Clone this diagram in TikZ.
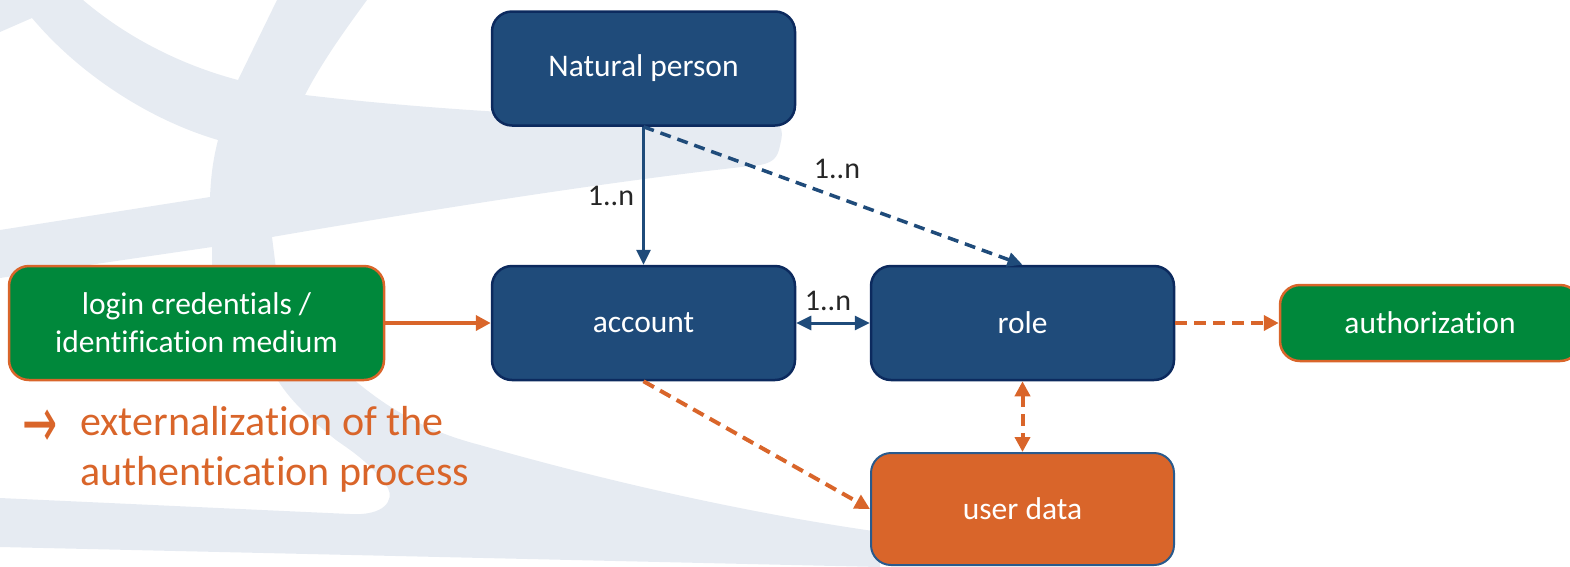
\documentclass[tikz,border=0pt]{standalone}
\usepackage{fontspec}
\setmainfont{Carlito}[Ligatures=NoCommon]
\newfontfamily\symfont{DejaVu Sans}
\usetikzlibrary{arrows.meta}
\definecolor{bgband}{HTML}{E6EBF2}
\definecolor{navyfill}{HTML}{1F4B7A}
\definecolor{navyline}{HTML}{0C2A5E}
\definecolor{greenfill}{HTML}{00883B}
\definecolor{orangec}{HTML}{D9652A}
\definecolor{udline}{HTML}{2A5A8C}
\definecolor{labelgray}{HTML}{262626}
\begin{document}
\begin{tikzpicture}[x=1pt,y=-1pt,
  box/.style={rounded corners=20pt, minimum width=303pt, minimum height=114pt,
    inner sep=0pt, text=white, font=\fontsize{31.5}{38}\selectfont, align=center},
  bluebox/.style={box, fill=navyfill, draw=navyline, line width=2.5pt},
  greenbox/.style={box, fill=greenfill, draw=orangec, line width=2.5pt},
  orangebox/.style={box, fill=orangec, draw=udline, line width=2pt},
  lbl/.style={inner sep=0pt, text=labelgray, font=\fontsize{30}{36}\selectfont},
  bluearrow/.style={draw=navyfill, line width=3pt, -{Triangle[length=15pt,width=14pt]}},
  bluedouble/.style={draw=navyfill, line width=3pt, {Triangle[length=15pt,width=14pt]}-{Triangle[length=15pt,width=14pt]}},
  orangearrow/.style={draw=orangec, line width=4pt, -{Triangle[length=15pt,width=15pt]}},
  orangedouble/.style={draw=orangec, line width=4pt, {Triangle[length=15pt,width=15pt]}-{Triangle[length=15pt,width=15pt]}},
  bdash/.style={dash pattern=on 11pt off 7pt},
  odash/.style={dash pattern=on 12pt off 7pt}
]
\useasboundingbox (0,0) rectangle (1570,566);
\clip (0,0) rectangle (1570,566);

% background swooshes
\fill[bgband] (0,0) -- (83,0) .. controls (130,40) and (185,66) .. (238,80)
  -- (277,0) -- (367,0) .. controls (345,30) and (322,62) .. (305,95)
  .. controls (450,112) and (620,120) .. (755,120)
  .. controls (790,120) and (782,135) .. (779,150)
  .. controls (776,160) and (770,163) .. (760,165)
  .. controls (600,182) and (400,215) .. (272,237)
  -- (280,300) -- (212,300) -- (212,247) -- (0,278) -- (0,230) -- (210,197)
  .. controls (211,175) and (213,160) .. (218,140)
  .. controls (150,120) and (80,75) .. (32,18) -- (0,32) -- cycle;
\fill[bgband] (273,372) -- (345,372) .. controls (390,412) and (430,432) .. (480,445)
  .. controls (620,485) and (760,515) .. (880,532) -- (880,567) -- (0,547) -- (0,498)
  -- (350,514) .. controls (385,516) and (394,500) .. (388,488)
  .. controls (370,462) and (350,450) .. (336,440)
  .. controls (305,415) and (285,395) .. (273,372) -- cycle;

% nodes
\node[bluebox] (np) at (643.5,68.5) {Natural person};
\node[bluebox] (acc) at (643.5,323) {account};
\node[bluebox] (role) at (1022.5,323) {role};
\node[greenbox, minimum width=375pt] (login) at (196.5,323) {login credentials /\\identification medium};
\node[greenbox, minimum width=300pt, minimum height=76pt] (auth) at (1430,323) {authorization};
\node[orangebox, minimum height=112pt] (ud) at (1022.5,509) {user data};

% connectors
\draw[bluearrow] (np.south) -- (acc.north);
\draw[bluearrow, bdash, line width=3.5pt] (np.south) -- (role.north);
\draw[bluedouble] (acc.east) -- (role.west);
\draw[orangearrow] (login.east) -- (acc.west);
\draw[orangearrow, odash] (role.east) -- (auth.west);
\draw[orangedouble, odash] (role.south) -- (ud.north);
\draw[orangearrow, odash] (acc.south) -- (ud.west);

% labels
\node[lbl, anchor=base] (l1) at (611,205) {1..n};
\node[lbl, anchor=base] (l2) at (837,178) {1..n};
\node[lbl, anchor=base] (l3) at (828,310) {1..n};

\node[anchor=base west, inner sep=0pt, text=orangec, font=\fontsize{42}{50}\selectfont, align=left] (ext) at (22,485)
  {\makebox[58pt][l]{\raisebox{-12pt}{\scalebox{1}[1.7]{\symfont →}}}externalization of the\\\hspace*{58pt}authentication process};
\end{tikzpicture}
\end{document}
